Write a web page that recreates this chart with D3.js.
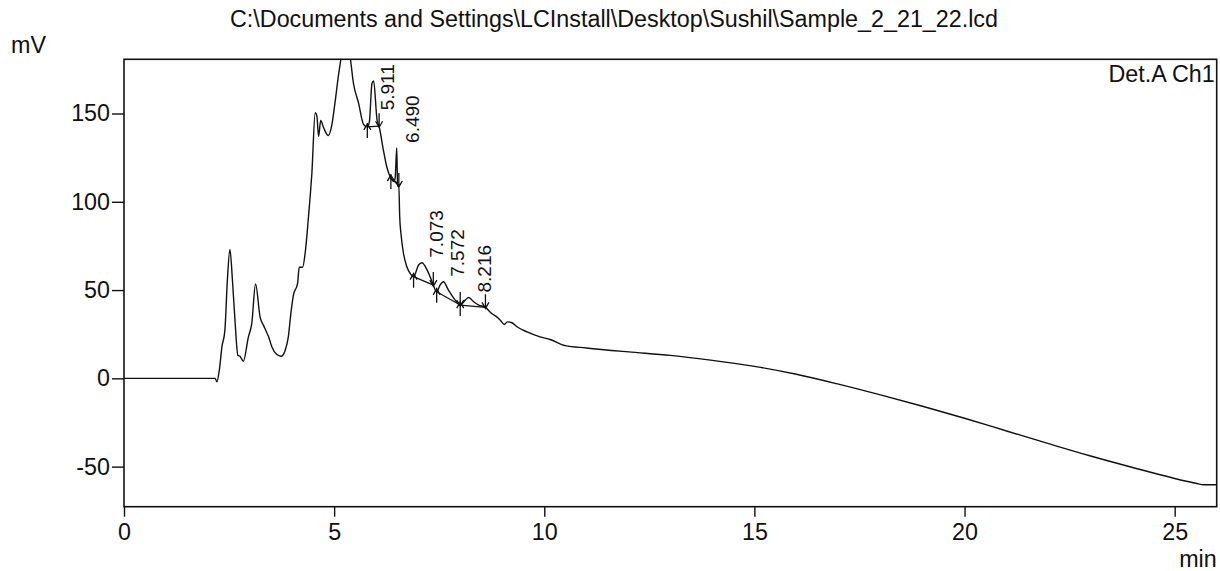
<!doctype html>
<html>
  <head>
    <meta charset="utf-8" />
    <title>Chromatogram</title>
    <style>
      body {
        margin: 0;
        background: #fff;
      }
      svg {
        display: block;
      }
      text {
        font-family: "Liberation Sans", Arial, sans-serif;
        fill: #111;
      }
    </style>
  </head>
  <body>
    <svg id="chart"></svg>
    <script src="https://d3js.org/d3.v7.min.js"></script>
    <script>
      // trace (time in min, signal in mV)
      const traceTime = [
        0, 2.17, 2.21, 2.27, 2.33, 2.4, 2.46, 2.52, 2.58, 2.64, 2.71, 2.76, 2.84,
        2.96, 3.04, 3.13, 3.24, 3.32, 3.44, 3.52, 3.63, 3.74, 3.83, 3.91, 3.97,
        4.03, 4.13, 4.17, 4.25, 4.31, 4.39, 4.47, 4.55, 4.59, 4.63, 4.68, 4.75,
        4.86, 4.94, 5.02, 5.1, 5.17, 5.27, 5.38, 5.46, 5.58, 5.7, 5.79, 5.84,
        5.9, 5.94, 6.02, 6.07, 6.17, 6.25, 6.35, 6.41, 6.45, 6.49, 6.51, 6.54,
        6.56, 6.59, 6.65, 6.73, 6.82, 6.89, 7.01, 7.09, 7.21, 7.33, 7.36, 7.44,
        7.52, 7.6, 7.72, 7.88, 8.0, 8.12, 8.2, 8.32, 8.44, 8.6, 8.75, 8.87, 8.95,
        9.05, 9.12, 9.23, 9.35, 9.59, 9.9, 10.14, 10.5, 11, 12, 13, 14, 15, 16,
        17, 18, 19, 20, 21, 22, 23, 24, 25, 25.5, 25.7, 26,
      ];
      const traceMv = [
        0, 0, -2, 5, 17.8, 27, 55.7, 73, 55.7, 33, 13, 12.5, 9.7, 23.5, 31, 53.4,
        34.5, 30, 23.5, 17.8, 13.6, 12.5, 15.5, 23.5, 36.7, 47, 53.8, 62.9, 62.9,
        70.8, 91.6, 116, 150.4, 148.5, 137, 146, 141.9, 137.5, 142.8, 156, 171,
        182, 193, 182, 167, 156, 143.8, 142.4, 145.6, 167, 168.4, 146.6, 142.8,
        129.5, 120, 113.4, 111.5, 113, 130.5, 108.7, 109, 91.6, 82, 70.8, 63.2,
        59, 57.6, 64.2, 65.5, 61.4, 54.7, 52.8, 49, 52.8, 54.7, 50, 44.3, 41.5,
        44.3, 45.8, 43.4, 41.5, 40.2, 36.7, 34.8, 33, 30.5, 32, 31.5, 29.2, 26.3,
        23.5, 22, 18.5, 17.2, 15, 13, 10.2, 6.8, 2.3, -3.3, -9.4, -15.8, -22.6,
        -29.8, -37, -44, -50.5, -56.7, -59.4, -60.3, -60.3,
      ];

      // integrated peaks
      const peakTimes = [5.911, 6.49, 7.073, 7.572, 8.216];
      const peakTops = [168.4, 130.5, 65.5, 54.7, 45.8];
      const peakStarts = [5.79, 6.35, 6.89, 7.44, 8.0];
      const peakEnds = [6.07, 6.54, 7.36, 8.0, 8.6];

      const xTicks = [0, 5, 10, 15, 20, 25];
      const yTicks = [-50, 0, 50, 100, 150];

      const titleText =
        "C:\\Documents and Settings\\LCInstall\\Desktop\\Sushil\\Sample_2_21_22.lcd";

      const W = 1220,
        H = 571;
      const plot = { left: 124, top: 59.3, right: 1216.7, bottom: 506.7 };
      const fontSize = "23.3px";

      const svg = d3.select("#chart").attr("width", W).attr("height", H);

      const x = d3.scaleLinear().domain([0, 26]).range([plot.left, plot.right]);
      const y = d3
        .scaleLinear()
        .domain([-72.7, 180.7])
        .range([plot.bottom, plot.top]);

      const trace = traceTime.map((t, i) => [t, traceMv[i]]);
      const at = (t) => {
        const i = d3.bisector((d) => d[0]).left(trace, t);
        if (i <= 0) return trace[0][1];
        const a = trace[i - 1],
          b = trace[i];
        return a[1] + ((b[1] - a[1]) * (t - a[0])) / (b[0] - a[0]);
      };

      // title and axis names
      svg
        .append("text")
        .attr("x", 614)
        .attr("y", 27)
        .attr("text-anchor", "middle")
        .style("font-size", fontSize)
        .text(titleText);
      svg
        .append("text")
        .attr("x", 11)
        .attr("y", 53)
        .style("font-size", fontSize)
        .text("mV");
      svg
        .append("text")
        .attr("x", plot.right)
        .attr("y", 567)
        .attr("text-anchor", "end")
        .style("font-size", fontSize)
        .text("min");

      // axes
      const xAxis = svg
        .append("g")
        .attr("transform", `translate(0,${plot.bottom})`);
      xAxis.call(
        d3.axisBottom(x).tickValues(d3.range(0, 27, 1)).tickSize(7).tickFormat(""),
      );
      xAxis.call(
        d3
          .axisBottom(x)
          .tickValues(xTicks)
          .tickSize(10)
          .tickPadding(7)
          .tickFormat((d) => String(d)),
      );

      const yAxis = svg.append("g").attr("transform", `translate(${plot.left},0)`);
      yAxis.call(
        d3.axisLeft(y).tickValues(d3.range(-70, 181, 10)).tickSize(7).tickFormat(""),
      );
      yAxis.call(
        d3
          .axisLeft(y)
          .tickValues(yTicks)
          .tickSize(12)
          .tickPadding(2)
          .tickFormat((d) => String(d)),
      );

      svg.selectAll(".domain").remove();
      svg
        .selectAll(".tick line")
        .attr("stroke", "#111")
        .attr("stroke-width", 1.4);
      svg
        .selectAll(".tick text")
        .style("font-size", fontSize)
        .style("font-family", '"Liberation Sans", Arial, sans-serif')
        .attr("fill", "#111");

      // plot frame
      svg
        .append("rect")
        .attr("x", plot.left)
        .attr("y", plot.top)
        .attr("width", plot.right - plot.left)
        .attr("height", plot.bottom - plot.top)
        .attr("fill", "none")
        .attr("stroke", "#111")
        .attr("stroke-width", 1.6);

      svg
        .append("text")
        .attr("x", plot.right - 2)
        .attr("y", 81.5)
        .attr("text-anchor", "end")
        .style("font-size", fontSize)
        .text("Det.A Ch1");

      svg
        .append("clipPath")
        .attr("id", "clip")
        .append("rect")
        .attr("x", plot.left)
        .attr("y", plot.top)
        .attr("width", plot.right - plot.left)
        .attr("height", plot.bottom - plot.top);

      const g = svg.append("g").attr("clip-path", "url(#clip)");

      const line = d3
        .line()
        .x((d) => x(d[0]))
        .y((d) => y(d[1]))
        .curve(d3.curveMonotoneX);

      g.append("path")
        .datum(trace)
        .attr("fill", "none")
        .attr("stroke", "#111")
        .attr("stroke-width", 1.4)
        .attr("stroke-linejoin", "round")
        .attr("d", line);

      const straight = d3
        .line()
        .x((d) => x(d[0]))
        .y((d) => y(d[1]));

      // peak baselines and start/end marks
      peakTimes.forEach((pt, i) => {
        const s = [peakStarts[i], at(peakStarts[i])];
        const e = [peakEnds[i], at(peakEnds[i])];
        g.append("path")
          .datum([s, e])
          .attr("fill", "none")
          .attr("stroke", "#111")
          .attr("stroke-width", 1.2)
          .attr("d", straight);

        const sx = x(s[0]),
          sy = y(s[1]);
        g.append("path")
          .attr(
            "d",
            `M${sx},${sy - 4}V${sy + 11}M${sx - 3.5},${sy + 3}L${sx},${sy - 3}L${sx + 3.5},${sy + 3}`,
          )
          .attr("fill", "none")
          .attr("stroke", "#111")
          .attr("stroke-width", 1.3);

        const ex = x(e[0]),
          ey = y(e[1]);
        g.append("path")
          .attr(
            "d",
            `M${ex},${ey - 13}V${ey + 1}M${ex - 3.5},${ey - 5}L${ex},${ey + 1}L${ex + 3.5},${ey - 5}`,
          )
          .attr("fill", "none")
          .attr("stroke", "#111")
          .attr("stroke-width", 1.3);

        // rotated retention time label
        const lx = x(pt) + 22;
        const ly = Math.max(y(peakTops[i]) - 5, plot.top + 51);
        svg
          .append("text")
          .attr("transform", `translate(${lx},${ly}) rotate(-90)`)
          .style("font-size", "19px")
          .text(pt.toFixed(3));
      });
    </script>
  </body>
</html>
